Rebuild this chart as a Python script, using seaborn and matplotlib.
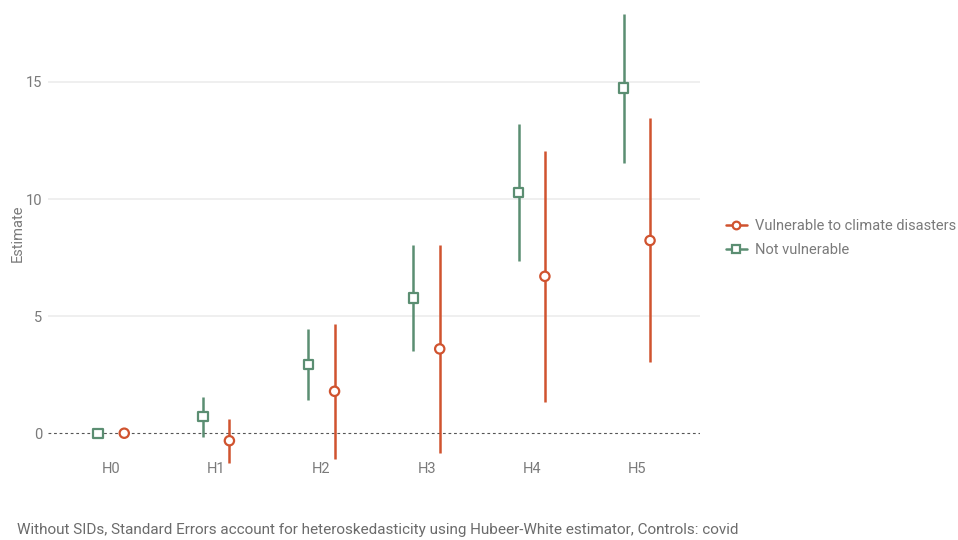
import matplotlib
matplotlib.use("Agg")
import matplotlib.pyplot as plt
import seaborn as sns
import pandas as pd
import numpy as np
from matplotlib.lines import Line2D

# values
hypotheses = ["H0", "H1", "H2", "H3", "H4", "H5"]
groups = ["Vulnerable to climate disasters", "Not vulnerable"]

vuln_est = [0.0, -0.32, 1.79, 3.6, 6.7, 8.23]
vuln_lo = [0.0, -1.28, -1.1, -0.84, 1.35, 3.03]
vuln_hi = [0.0, 0.6, 4.67, 8.02, 12.04, 13.46]

notv_est = [0.0, 0.71, 2.93, 5.78, 10.27, 14.74]
notv_lo = [0.0, -0.18, 1.42, 3.5, 7.34, 11.55]
notv_hi = [0.0, 1.56, 4.46, 8.05, 13.2, 17.92]

caption = ("Without SIDs, Standard Errors account for heteroskedasticity "
           "using Hubeer-White estimator, Controls: covid")

red = "#d0532f"
green = "#5b8e72"
grey = "#7a7a7a"


def build_df():
    rows = []
    for i, h in enumerate(hypotheses):
        rows.append({"hyp": h, "idx": i, "group": groups[0], "est": vuln_est[i],
                     "lo": vuln_lo[i], "hi": vuln_hi[i]})
        rows.append({"hyp": h, "idx": i, "group": groups[1], "est": notv_est[i],
                     "lo": notv_lo[i], "hi": notv_hi[i]})
    df = pd.DataFrame(rows)
    # dodge: not vulnerable left, vulnerable right
    offset = {groups[0]: 0.125, groups[1]: -0.125}
    df["x"] = df["idx"] + df["group"].map(offset)
    return df


if __name__ == "__main__":
    sns.set_theme(style="white")
    plt.rcParams["font.family"] = ["Roboto", "DejaVu Sans"]

    df = build_df()
    palette = {groups[0]: red, groups[1]: green}
    markers = {groups[0]: "o", groups[1]: "s"}

    fig = plt.figure(figsize=(9.58, 5.4), dpi=100)
    ax = fig.add_axes([48 / 958, 1 - 466 / 540, 652 / 958, 466 / 540])

    # grid + zero line
    for v in [5, 10, 15]:
        ax.axhline(v, color="#ebebeb", lw=1.1, zorder=0)
    ax.axhline(0, color="#555555", lw=0.8, ls=(0, (2.5, 2.5)), zorder=1)

    # error bars
    for g in groups:
        sub = df[df["group"] == g]
        ax.vlines(sub["x"], sub["lo"], sub["hi"], color=palette[g], lw=1.8, zorder=2)

    sns.scatterplot(data=df, x="x", y="est", hue="group", style="group",
                    palette=palette, markers=markers, hue_order=groups,
                    style_order=groups, s=45, facecolor="white",
                    linewidth=1.6, legend=False, ax=ax, zorder=3)
    # open markers with coloured edges
    coll = ax.collections[-1]
    coll.set_edgecolors([palette[g] for g in df["group"]])
    coll.set_facecolors("white")

    ax.set_xlim(-0.6, 5.6)
    ax.set_ylim(-1.4, 18.5)
    ax.set_xticks(range(len(hypotheses)))
    ax.set_xticklabels(hypotheses)
    ax.set_yticks([0, 5, 10, 15])
    ax.tick_params(axis="both", length=0, labelsize=10.5, labelcolor=grey)
    ax.tick_params(axis="x", pad=-3)
    ax.tick_params(axis="y", pad=4)
    ax.set_xlabel("")
    ax.set_ylabel("Estimate", color=grey, fontsize=10.5, labelpad=1)
    for spine in ax.spines.values():
        spine.set_visible(False)

    # legend
    handles = [Line2D([0], [0], color=palette[g], marker=markers[g], lw=1.8,
                      markerfacecolor="white", markeredgecolor=palette[g],
                      markeredgewidth=1.6, markersize=5.5)
               for g in groups]
    leg = fig.legend(handles, groups, loc="center left",
                     bbox_to_anchor=(713 / 958, 1 - 238 / 540), frameon=False,
                     fontsize=10.5, handlelength=1.4, handletextpad=0.6,
                     labelspacing=0.65)
    for t in leg.get_texts():
        t.set_color(grey)

    fig.text(17 / 958, 1 - 530 / 540, caption, color="#6b6b6b", fontsize=11,
             ha="left", va="center")

    fig.savefig("out.png", dpi=100)
